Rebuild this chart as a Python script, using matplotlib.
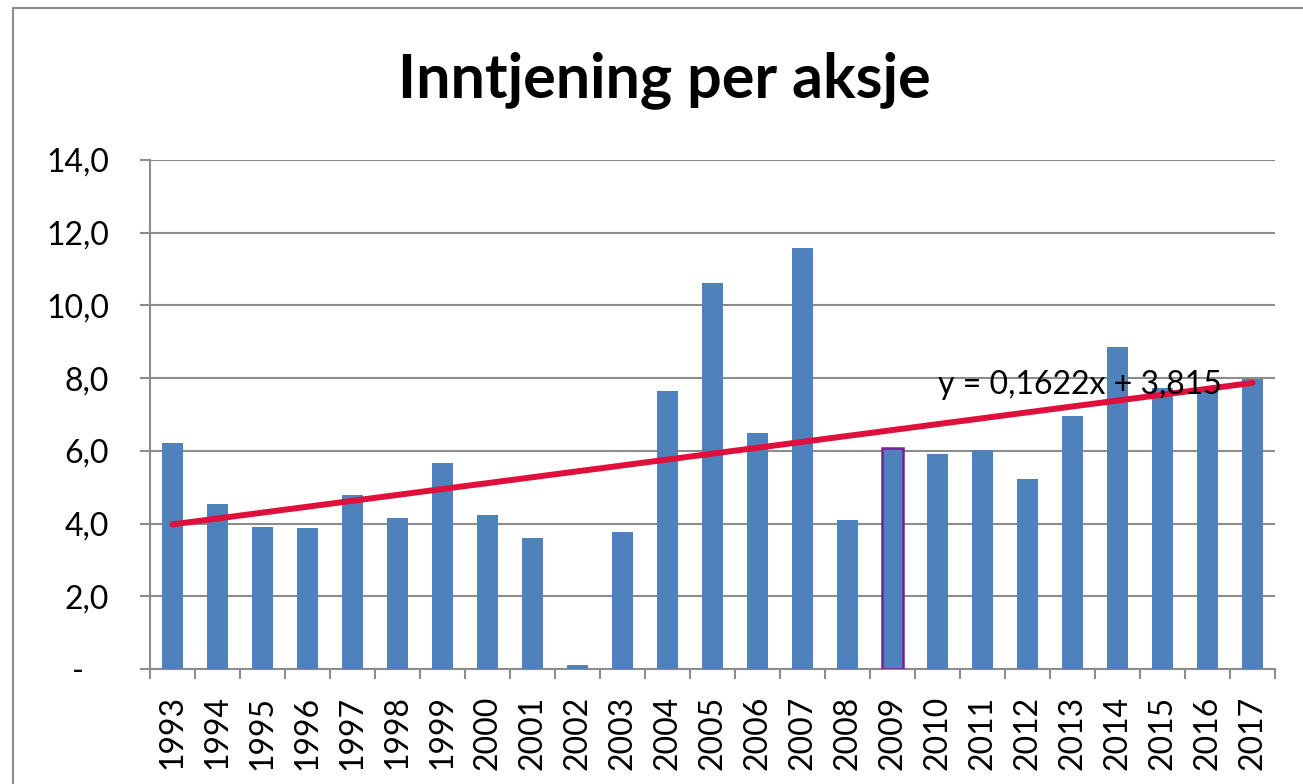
"""Inntjening per aksje, 1993-2017, with linear trendline."""

import matplotlib

matplotlib.use("Agg")
import matplotlib.pyplot as plt
from matplotlib.patches import Rectangle
from matplotlib.ticker import FixedLocator, FuncFormatter

years = list(range(1993, 2018))
eps = [6.22, 4.54, 3.90, 3.88, 4.79, 4.15, 5.67, 4.24, 3.60, 0.11,
       3.77, 7.65, 10.62, 6.49, 11.58, 4.10, 6.08, 5.91, 6.02, 5.23,
       6.96, 8.86, 7.73, 7.70, 7.98]
trend_slope = 0.1622
trend_intercept = 3.815
highlight_year = 2009

plt.rcParams["font.family"] = ["Lato", "DejaVu Sans"]

BAR = "#4F81BD"
GRID = "#8C8C8C"
TREND = "#E0103C"
FS = 23

fig = plt.figure(figsize=(13.03, 7.84), dpi=100)
ax = fig.add_axes([150 / 1303, 1 - 669 / 784, 1125 / 1303, 509 / 784])

x = list(range(1, len(years) + 1))
bars = ax.bar(x, eps, width=0.45, color=BAR, zorder=3)
hi = years.index(highlight_year)
bars[hi].set_edgecolor("#7A2090")
bars[hi].set_linewidth(1.8)

# trendline over category index 1..n
tx = [x[0], x[-1]]
ty = [trend_slope * v + trend_intercept for v in tx]
ax.plot(tx, ty, color=TREND, lw=4.3, solid_capstyle="round", zorder=4)
ax.text(18.0, 7.82, "y = 0,1622x + 3,815", fontsize=FS, va="center",
        ha="left", color="black", zorder=5)

ax.set_xlim(0.5, len(years) + 0.5)
ax.set_ylim(0, 14)
ax.set_yticks([0, 2, 4, 6, 8, 10, 12, 14])
# accounting-style zero: dash with trailing padding
ax.yaxis.set_major_formatter(FuncFormatter(
    lambda v, _: "-   " if v == 0 else f"{v:.1f}".replace(".", ",")))
ax.grid(axis="y", color=GRID, lw=1.5, zorder=0)

# year labels centred, tick marks on category boundaries
ax.set_xticks(x)
ax.set_xticklabels([str(y) for y in years], rotation=90)
ax.tick_params(axis="x", which="major", length=0, pad=19, labelsize=FS)
ax.xaxis.set_minor_locator(FixedLocator([v + 0.5 for v in range(0, len(years) + 1)]))
ax.tick_params(axis="x", which="minor", length=7.5, width=1.5, color=GRID)
ax.tick_params(axis="y", length=7.5, width=1.5, color=GRID, labelsize=FS, pad=22)

for side in ("top", "right"):
    ax.spines[side].set_visible(False)
for side in ("left", "bottom"):
    ax.spines[side].set_color(GRID)
    ax.spines[side].set_linewidth(1.5)

fig.text(664 / 1303, 1 - 80 / 784, "Inntjening per aksje", ha="center", va="center",
         fontsize=44, fontweight="bold")

# outer chart frame (cut off on the right/bottom)
fig.patches.append(Rectangle((13 / 1303, -0.05), 1.1, 1 - 8 / 784 + 0.05,
                             transform=fig.transFigure, fill=False,
                             edgecolor=GRID, lw=1.5))

fig.savefig("out.png", dpi=100)
